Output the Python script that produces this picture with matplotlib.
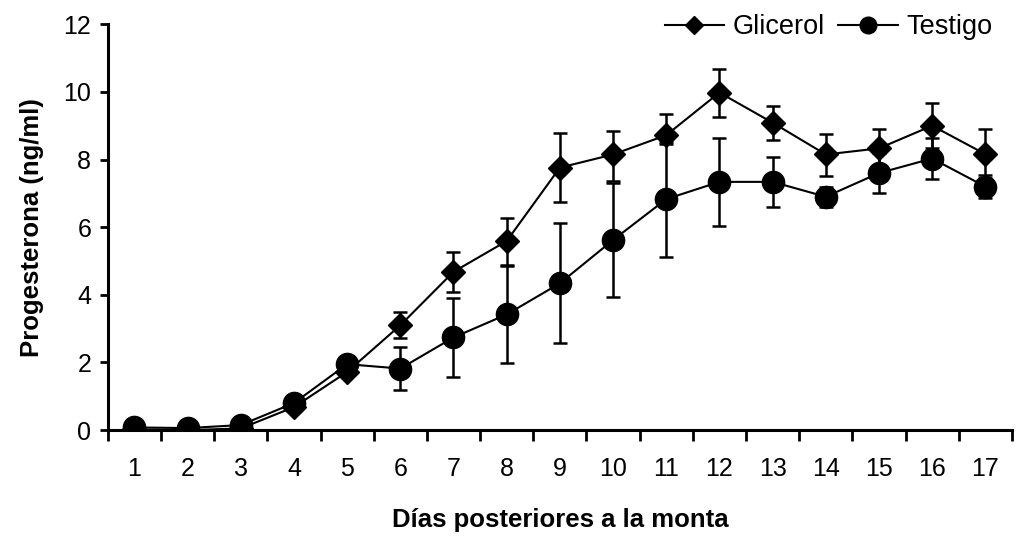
import numpy as np
import matplotlib.pyplot as plt
from matplotlib.lines import Line2D

plt.rcParams['font.family'] = ['Liberation Sans', 'DejaVu Sans']

# Datos
dias = list(range(1, 18))
glicerol = [0.02, 0.0, 0.05, 0.68, 1.72, 3.1, 4.68, 5.59, 7.76, 8.15, 8.72, 9.98, 9.09, 8.15, 8.33, 9.0, 8.16]
glicerol_err_inf = [0.0, 0.0, 0.0, 0.05, 0.1, 0.38, 0.6, 0.75, 1.03, 0.78, 0.27, 0.72, 0.5, 0.64, 0.56, 0.66, 0.7]
glicerol_err_sup = [0.0, 0.0, 0.0, 0.05, 0.1, 0.38, 0.58, 0.69, 1.03, 0.69, 0.64, 0.71, 0.5, 0.61, 0.56, 0.66, 0.73]
testigo = [0.08, 0.06, 0.15, 0.8, 1.95, 1.82, 2.74, 3.42, 4.34, 5.62, 6.83, 7.34, 7.34, 6.9, 7.6, 8.03, 7.2]
testigo_err = [0.0, 0.0, 0.0, 0.05, 0.12, 0.63, 1.17, 1.45, 1.77, 1.68, 1.7, 1.31, 0.73, 0.3, 0.6, 0.61, 0.33]

fig = plt.figure(figsize=(10.17, 5.39), dpi=100)
ax = fig.add_axes([0.106, 0.202, 0.889, 0.753])

ax.errorbar(dias, glicerol, yerr=[glicerol_err_inf, glicerol_err_sup], color='black',
            marker='D', markersize=12.5, linewidth=1.5, elinewidth=1.8, capsize=5, capthick=1.8,
            zorder=3)
ax.errorbar(dias, testigo, yerr=testigo_err, color='black',
            marker='o', markersize=16, linewidth=1.5, elinewidth=1.8, capsize=5, capthick=1.8,
            zorder=3)

ax.set_xlim(0.5, 17.5)
ax.set_ylim(0, 12)
ax.set_yticks(np.arange(0, 13, 2))
ax.set_xticks(dias)
ax.set_xticks(np.arange(0.5, 18, 1), minor=True)
ax.tick_params(axis='x', which='major', length=0, pad=19, labelsize=18)
ax.tick_params(axis='x', which='minor', length=8, width=2, direction='out')
ax.tick_params(axis='y', length=6, width=2, direction='out', labelsize=18, pad=6)

for s in ['top', 'right']:
    ax.spines[s].set_visible(False)
for s in ['left', 'bottom']:
    ax.spines[s].set_linewidth(2.2)

ax.set_xlabel('Días posteriores a la monta', fontsize=18.5, fontweight='bold', labelpad=20)
ax.set_ylabel('Progesterona (ng/ml)', fontsize=18.5, fontweight='bold', labelpad=14)

handles = [Line2D([], [], color='black', marker='D', markersize=9.5, linewidth=1.5),
           Line2D([], [], color='black', marker='o', markersize=12, linewidth=1.5)]
ax.legend(handles, ['Glicerol', 'Testigo'], loc='upper right', ncol=2, frameon=False,
          fontsize=19.5, bbox_to_anchor=(0.978, 1.025), borderaxespad=0, borderpad=0,
          handlelength=2.2, handletextpad=0.3, columnspacing=0.5)

fig.savefig('out.png', dpi=100)
